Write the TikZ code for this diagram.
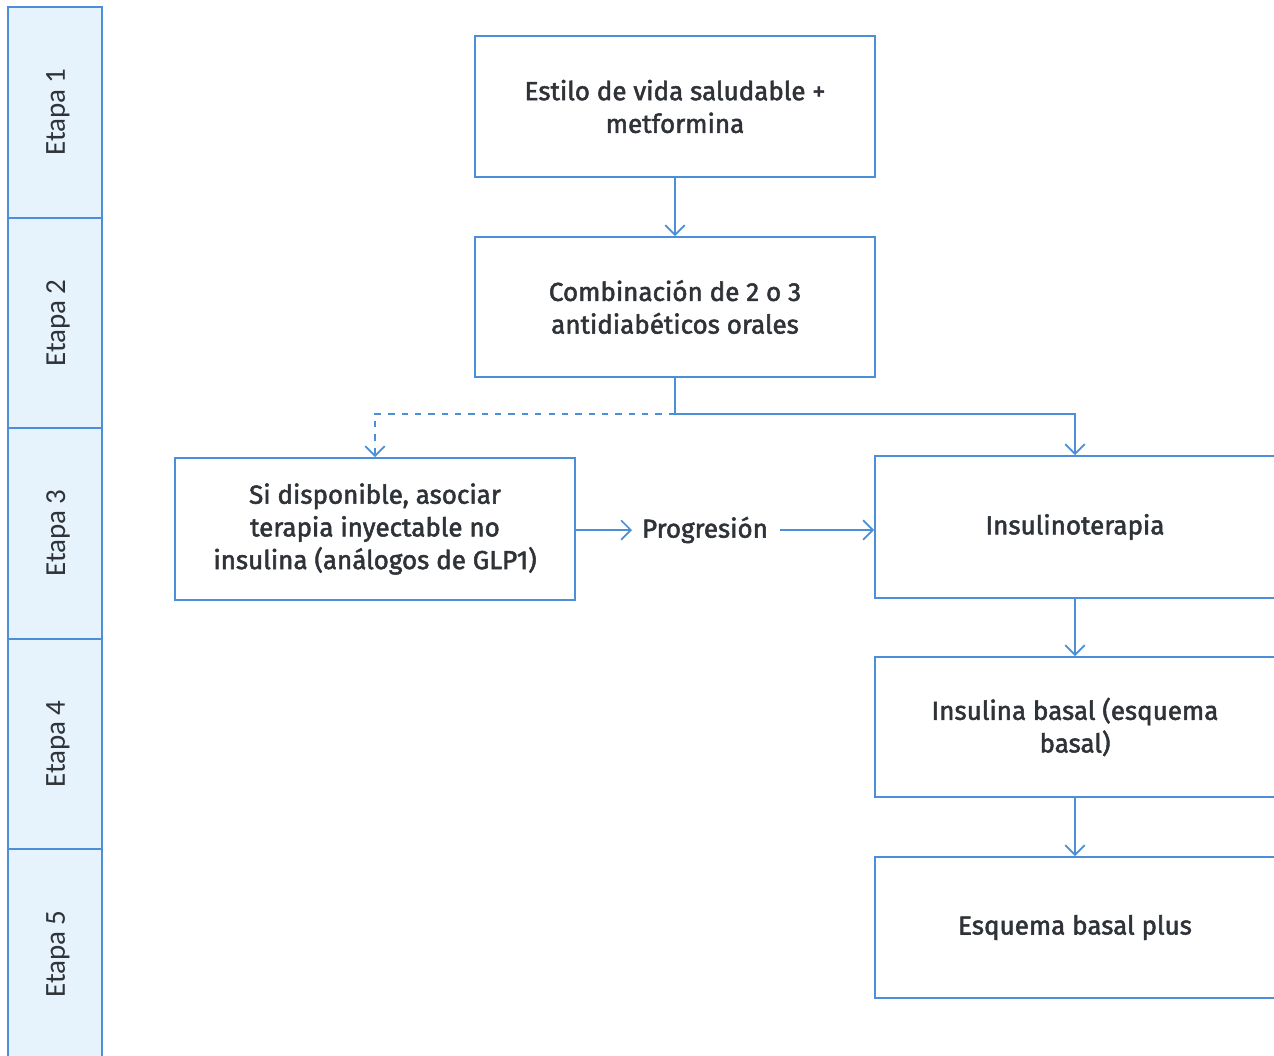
\documentclass[tikz,border=0pt]{standalone}
\usepackage{fontspec}
\setmainfont{Fira Sans}
\newfontfamily\flowfont{Fira Sans}[UprightFeatures={FakeBold=2}]
\newfontfamily\sidefont{Carlito}
\usetikzlibrary{arrows.meta}
\definecolor{lineblue}{HTML}{4A8FD8}
\definecolor{stripe}{HTML}{E6F3FC}
\definecolor{ink}{HTML}{2F3338}
\begin{document}
\begin{tikzpicture}[x=0.02cm,y=-0.02cm,
  flowbox/.style={draw=lineblue,line width=1.1pt,fill=white,text=ink,
    align=center,inner sep=0pt,font=\flowfont\fontsize{14.8}{18.6}\selectfont},
  stagebox/.style={draw=lineblue,line width=0.9pt,fill=stripe,inner sep=0pt},
  stagelabel/.style={rotate=90,text=ink,font=\sidefont\fontsize{16.5}{19}\selectfont},
  conn/.style={draw=lineblue,line width=1.1pt},
  tip/.style={-{Straight Barb[length=5.5pt,width=11pt,line width=1pt]}}]
\useasboundingbox (0,0) rectangle (1274,1055);
\fill[white] (0,0) rectangle (1274,1055);

% stage column
\foreach \i/\t/\b in {1/7/218,2/218/428,3/428/639,4/639/849,5/849/1070}{
  \draw[stagebox] (8,\t) rectangle (102,\b);
}
\node[stagelabel] (s1) at (58,112) {Etapa 1};
\node[stagelabel] (s2) at (58,323) {Etapa 2};
\node[stagelabel] (s3) at (58,533) {Etapa 3};
\node[stagelabel] (s4) at (58,744) {Etapa 4};
\node[stagelabel] (s5) at (58,954) {Etapa 5};

% flow boxes
\node[flowbox,minimum width=400*0.02cm,minimum height=141*0.02cm] (b1) at (675,106.5)
  {Estilo de vida saludable +\\metformina};
\node[flowbox,minimum width=400*0.02cm,minimum height=140*0.02cm] (b2) at (675,307)
  {Combinación de 2 o 3\\antidiabéticos orales};
\node[flowbox,minimum width=400*0.02cm,minimum height=142*0.02cm] (b3) at (375,529)
  {Si disponible, asociar\\terapia inyectable no\\insulina (análogos de GLP1)};
\node[flowbox,minimum width=400*0.02cm,minimum height=142*0.02cm] (b4) at (1075,527)
  {Insulinoterapia};
\node[flowbox,minimum width=400*0.02cm,minimum height=140*0.02cm] (b5) at (1075,727)
  {Insulina basal (esquema\\basal)};
\node[flowbox,minimum width=400*0.02cm,minimum height=141*0.02cm] (b6) at (1075,927.5)
  {Esquema basal plus};

\node[text=ink,inner sep=0pt,font=\flowfont\fontsize{14.8}{18}\selectfont] (prog) at (705,530) {Progresión};

\path (b2.south) ++(0,36) coordinate (split);

% connectors
\draw[conn,tip] (b1) -- (b2);
\draw[conn] (b2.south) -- (split);
\draw[conn,tip] (split) -| (b4.north);
\draw[conn,tip,dash pattern=on 3.6pt off 4pt] (split) -| (b3.north);
\draw[conn,tip] (b3.east |- prog) -- (632,530);
\draw[conn,tip] (780,530) -- (b4.west |- prog);
\draw[conn,tip] (b4) -- (b5);
\draw[conn,tip] (b5) -- (b6);
\end{tikzpicture}
\end{document}
